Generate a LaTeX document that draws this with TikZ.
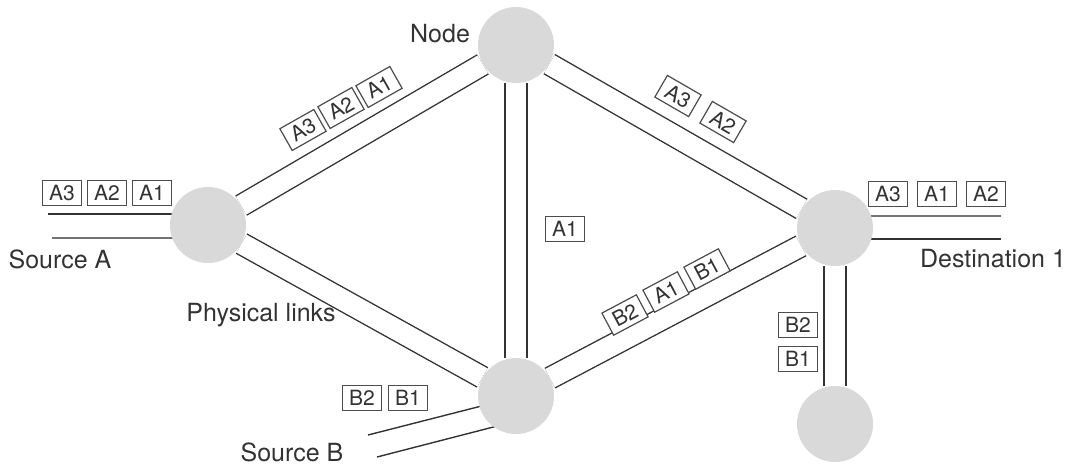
\documentclass[tikz,border=0pt]{standalone}
\usepackage{fontspec}
\setmainfont{TeX Gyre Heros}
\usetikzlibrary{positioning, calc, backgrounds}

\begin{document}
\begin{tikzpicture}[x=0.5pt, y=-0.5pt,
    site/.style={circle, fill=gray!30, minimum size=38pt, inner sep=0pt},
    link/.style={draw=black!80, line width=0.7pt, double=white, double distance=10.3pt},
    wire/.style={draw=black!80, line width=0.7pt},
    pkt/.style={rectangle, draw=black!70, line width=0.6pt, fill=white, text=black!80, font=\fontsize{10.5}{12}\selectfont, minimum width=19.5pt, minimum height=12.5pt, inner sep=0pt},
    lbl/.style={text=black!80, font=\fontsize{12.5}{14}\selectfont},
]
\useasboundingbox (0,0) rectangle (1069,466);

% === Network nodes ===
\node[site] (nL)  at (208,225) {};
\node[site] (nT)  at (516,45)  {};
\node[site] (nR)  at (835,228) {};
\node[site] (nBm) at (516,396) {};
\node[site] (nBR) at (835,424) {};

% === Open ends of the access links ===
\coordinate (srcAu) at (48,214);
\coordinate (srcAl) at (52,238);
\coordinate (dstu)  at (1001,216);
\coordinate (dstl)  at (1001,239);
\coordinate (srcBu) at (368,435);
\coordinate (srcBl) at (377,457);

% === Physical links (behind the nodes) ===
\begin{scope}[on background layer]
\draw[link] (nL) -- (nT);
\draw[link] (nL) -- (nBm);
\draw[link] (nT) -- (nBm);
\draw[link] (nT) -- (nR);
\draw[link] (nBm) -- (nR);
\draw[link] (nR) -- (nBR);
% access links
\draw[wire] (srcAu) -- (srcAu -| nL);
\draw[wire, black!55] (srcAl) -- (srcAl -| nL);
\draw[wire, black!55] (dstu) -- (dstu -| nR);
\draw[wire] (dstl) -- (dstl -| nR);
\draw[wire] (srcBu) -- ($(nBm)+(-11,4)$);
\draw[wire] (srcBl) -- ($(nBm)+(-11,28)$);
\end{scope}

% === Labels ===
\node[lbl] (lSrcA) at (60,259)  {Source A};
\node[lbl, anchor=east] (lNode) at (477,34) {Node};
\node[lbl] (lPhys) at (261,315) {Physical links};
\node[lbl] (lSrcB) at (292,452) {Source B};
\node[lbl] (lDst)  at (993,259) {Destination 1};

% === Packets at Source A ===
\node[pkt] (pa3) at (62,193)  {A3};
\node[pkt] (pa2) at (107,193) {A2};
\node[pkt] (pa1) at (152,193) {A1};

% === Packets on link left--top ===
\node[pkt, rotate=29.5] (lt3) at (303,130) {A3};
\node[pkt, rotate=29.5] (lt2) at (341,108) {A2};
\node[pkt, rotate=29.5] (lt1) at (379,87)  {A1};

% === Packets on link top--right ===
\node[pkt, rotate=-30] (tr3) at (678,96)  {A3};
\node[pkt, rotate=-30] (tr2) at (723,122) {A2};

% === Packet on link top--bottom ===
\node[pkt] (tb1) at (565,229) {A1};

% === Packets on link bottom--right ===
\node[pkt, rotate=28] (br2) at (625,315) {B2};
\node[pkt, rotate=28] (br1) at (666,292) {A1};
\node[pkt, rotate=28] (brb) at (707,269) {B1};

% === Packets at Destination 1 ===
\node[pkt] (pd3) at (888,194) {A3};
\node[pkt] (pd1) at (937,194) {A1};
\node[pkt] (pd2) at (986,194) {A2};

% === Packets at Source B ===
\node[pkt] (pb2) at (362,398) {B2};
\node[pkt] (pb1) at (408,398) {B1};

% === Packets on link right--lower right ===
\node[pkt] (rb2) at (798,325) {B2};
\node[pkt] (rb1) at (798,359) {B1};

\end{tikzpicture}
\end{document}
